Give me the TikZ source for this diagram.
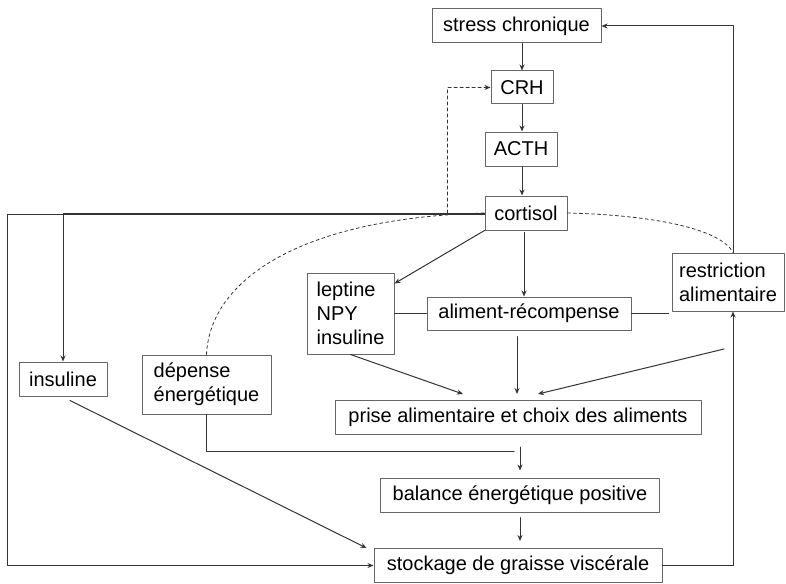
\documentclass[tikz,border=0pt]{standalone}
\usepackage{fontspec}
\setmainfont{Liberation Sans}
\usetikzlibrary{arrows.meta}
\begin{document}
\begin{tikzpicture}[x=1pt,y=-1pt,font=\fontsize{20}{24}\selectfont, line join=round, line cap=round, >={Stealth[length=6pt,width=5pt]},
	boite/.style={draw=black!60,line width=1pt,inner sep=0pt},
	lien/.style={draw=black!80,line width=1pt},
	trou/.style={shorten <=6pt,shorten >=6pt}]
			\useasboundingbox (0,0) rectangle (786,583);
			\node[boite,minimum width=169,minimum height=34] (stress) at (516.5,26) {stress chronique};
			\node[boite,minimum width=62,minimum height=33] (crh) at (522,87.5) {CRH};
			\node[boite,minimum width=72,minimum height=34] (acth) at (521,149) {ACTH};
			\node[boite,minimum width=82,minimum height=34] (cortisol) at (526,213) {cortisol};
			\node[boite,minimum width=112,minimum height=58,align=left] (restr) at (728,282) {restriction\\alimentaire};
			\node[boite,minimum width=87,minimum height=81,align=left] (lept) at (350.5,313.5) {leptine\\NPY\\insuline};
			\node[boite,minimum width=204,minimum height=33] (alim) at (529,313.5) {aliment-récompense};
			\node[boite,minimum width=88,minimum height=34] (insul) at (63,379) {insuline};
			\node[boite,minimum width=129,minimum height=59,align=left] (dep) at (206.5,384.5) {dépense\\énergétique};
			\node[boite,minimum width=366,minimum height=34] (prise) at (518,417.5) {prise alimentaire et choix des aliments};
			\node[boite,minimum width=279,minimum height=34] (bal) at (520,495) {balance énergétique positive};
			\node[boite,minimum width=288,minimum height=34] (stock) at (518,565.5) {stockage de graisse viscérale};
			\coordinate (hanche) at (724,349);
			\draw[lien,->] (crh.north |- stress.south) -- (crh.north);
			\draw[lien,->] (crh.south) -- (crh.south |- acth.north);
			\draw[lien,->] (crh.south |- acth.south) -- (crh.south |- cortisol.north);
			\draw[lien,->,dashed] ([xshift=-37]cortisol.west) |- (crh.west);
			\draw[lien,->] (cortisol.west) -| (insul.north);
			\draw[lien,->] ([yshift=-1]cortisol.west) -- ++(-477,0) |- (stock.west);
			\draw[lien,->] (cortisol.south west) -- ([yshift=-11]lept.north east);
			\draw[lien,->,shorten <=2pt] ([xshift=-2]cortisol.south) -- ([xshift=-2]cortisol.south |- alim.north);
			\draw[lien] (lept.east) -- (alim.west);
			\draw[lien,shorten >=3pt] (alim.east) -- (alim.east -| restr.west);
			\draw[lien,->] ([xshift=5]restr.north) |- (stress.east);
			\draw[lien,->] (stock.east) -| ([xshift=5]restr.south);
			\draw[lien,dashed,line width=0.8pt] (cortisol.east) .. controls (650,215) and (720,228) .. ([xshift=5]restr.north);
			\draw[lien,dashed,line width=0.8pt] (dep.north) .. controls (210,280) and (300,218) .. (cortisol.west);
			\draw[lien,->] (lept.south) -- ([xshift=-55,yshift=6]prise.north);
			\draw[lien,->,trou] ([xshift=-12]alim.south) -- ([xshift=-12]alim.south |- prise.north);
			\draw[lien,->] (hanche) -- ([xshift=20,yshift=6]prise.north);
			\draw[lien,->] ([xshift=7,yshift=-4]insul.south) -- ([xshift=-7]stock.north west);
			\draw[lien] (dep.south) |- ([xshift=-6,yshift=26]bal.north);
			\draw[lien,->,shorten <=12pt,shorten >=7pt] (prise.south -| bal.north) -- (bal.north);
			\draw[lien,->,shorten <=5pt,shorten >=7pt] (bal.south) -- (bal.south |- stock.north);
\end{tikzpicture}
\end{document}
